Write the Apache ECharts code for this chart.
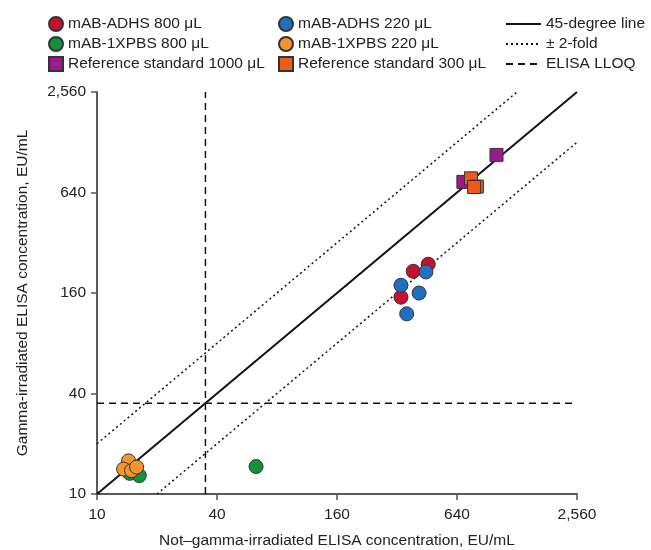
<!DOCTYPE html>
<html>
<head>
<meta charset="utf-8">
<script src="https://cdn.jsdelivr.net/npm/echarts@6/dist/echarts.min.js"></script>
<style>
  html, body { margin: 0; padding: 0; background: #fff; }
  #chart { width: 651px; height: 550px; }
</style>
</head>
<body>
<div id="chart"></div>
<script>
// [not irradiated, irradiated] in EU/mL
var adhs800 = [[459, 238], [386, 216], [335, 151]]
var adhs220 = [[447, 214], [335, 178], [413, 160], [358, 120]]
var pbs800 = [[14.6, 13.3], [16.3, 12.9], [62.8, 14.6]]
var pbs220 = [[14.4, 15.8], [13.6, 14.1], [14.9, 13.8], [15.8, 14.5]]
var ref1000 = [[1010, 1075], [689, 741]]
var ref300 = [[752, 778], [805, 695], [780, 690]]
var lloq = 35
var axisMin = 10
var axisMax = 2560

// axis runs in log4 steps from 10
function toU (v) { return Math.log(v / axisMin) / Math.log(4) }
function conv (arr) { return arr.map(function (p) { return [toU(p[0]), toU(p[1])] }) }
function fmt (u) {
  var v = Math.round(axisMin * Math.pow(4, u))
  return v.toString().replace(/\B(?=(\d{3})+(?!\d))/g, ',')
}

var font = 'Liberation Sans, Arial, sans-serif'
var border = { borderColor: '#333', borderWidth: 1 }

function scatter (name, data, symbol, color, size) {
  return {
    name: name,
    type: 'scatter',
    data: conv(data),
    symbol: symbol,
    symbolSize: size,
    itemStyle: Object.assign({ color: color, opacity: 1 }, border),
    z: 5
  }
}
function line (name, data, type, width) {
  return {
    name: name,
    type: 'line',
    data: conv(data),
    symbol: 'none',
    silent: true,
    lineStyle: { color: '#111', width: width, type: type },
    itemStyle: { color: '#111' },
    z: 2
  }
}

var legendText = { fontFamily: font, fontSize: 15.5, color: '#222' }
var myChart = echarts.init(document.getElementById('chart'))
var option = {
  animation: false,
  legend: [
    {
      orient: 'vertical', left: 43, top: 11, itemGap: 4, itemWidth: 14, itemHeight: 14,
      textStyle: legendText,
      data: ['mAB-ADHS 800 μL', 'mAB-1XPBS 800 μL', 'Reference standard 1000 μL']
    },
    {
      orient: 'vertical', left: 273, top: 11, itemGap: 4, itemWidth: 14, itemHeight: 14,
      textStyle: legendText,
      data: ['mAB-ADHS 220 μL', 'mAB-1XPBS 220 μL', 'Reference standard 300 μL']
    },
    {
      orient: 'vertical', left: 500, top: 11, itemGap: 4, itemWidth: 35, itemHeight: 14,
      textStyle: legendText,
      itemStyle: { opacity: 0 },
      data: ['45-degree line', '± 2-fold', 'ELISA LLOQ']
    }
  ],
  grid: { left: 97, right: 74, top: 92, bottom: 56, containLabel: false, outerBoundsMode: 'none' },
  xAxis: {
    type: 'value',
    min: 0, max: 4, interval: 1,
    name: 'Not–gamma-irradiated ELISA concentration, EU/mL',
    nameLocation: 'middle', nameGap: 39,
    nameTextStyle: { fontFamily: font, fontSize: 15.5, color: '#222' },
    axisLine: { onZero: false, lineStyle: { color: '#222', width: 1.5 } },
    axisTick: { show: true, length: 6, lineStyle: { color: '#555', width: 1.5 } },
    axisLabel: { formatter: fmt, fontFamily: font, fontSize: 15.5, color: '#222', margin: 13 },
    splitLine: { show: false }
  },
  yAxis: {
    type: 'value',
    min: 0, max: 4, interval: 1,
    name: 'Gamma-irradiated ELISA concentration, EU/mL',
    nameLocation: 'middle', nameGap: 66,
    nameTextStyle: { fontFamily: font, fontSize: 15.5, color: '#222' },
    axisLine: { show: true, onZero: false, lineStyle: { color: '#222', width: 1.5 } },
    axisTick: { show: true, length: 6, lineStyle: { color: '#555', width: 1.5 } },
    axisLabel: { formatter: fmt, fontFamily: font, fontSize: 15.5, color: '#222', margin: 11 },
    splitLine: { show: false }
  },
  series: [
    scatter('mAB-ADHS 800 μL', adhs800, 'circle', '#c8102e', 14),
    scatter('mAB-1XPBS 800 μL', pbs800, 'circle', '#13913c', 14),
    scatter('Reference standard 1000 μL', ref1000, 'rect', '#9b1b8e', 13),
    scatter('mAB-ADHS 220 μL', adhs220, 'circle', '#1f70c1', 14),
    scatter('mAB-1XPBS 220 μL', pbs220, 'circle', '#f7942f', 14),
    scatter('Reference standard 300 μL', ref300, 'rect', '#ee5a1b', 13),
    line('45-degree line', [[axisMin, axisMin], [axisMax, axisMax]], 'solid', 2),
    line('± 2-fold', [[axisMin, axisMin * 2], [axisMax / 2, axisMax]], [2, 3], 1.5),
    line('± 2-fold', [[axisMin * 2, axisMin], [axisMax, axisMax / 2]], [2, 3], 1.5),
    line('ELISA LLOQ', [[lloq, axisMin], [lloq, axisMax]], [7, 5], 1.5),
    line('ELISA LLOQ', [[axisMin, lloq], [axisMax, lloq]], [7, 5], 1.5)
  ]
}
myChart.setOption(option)
</script>
</body>
</html>
